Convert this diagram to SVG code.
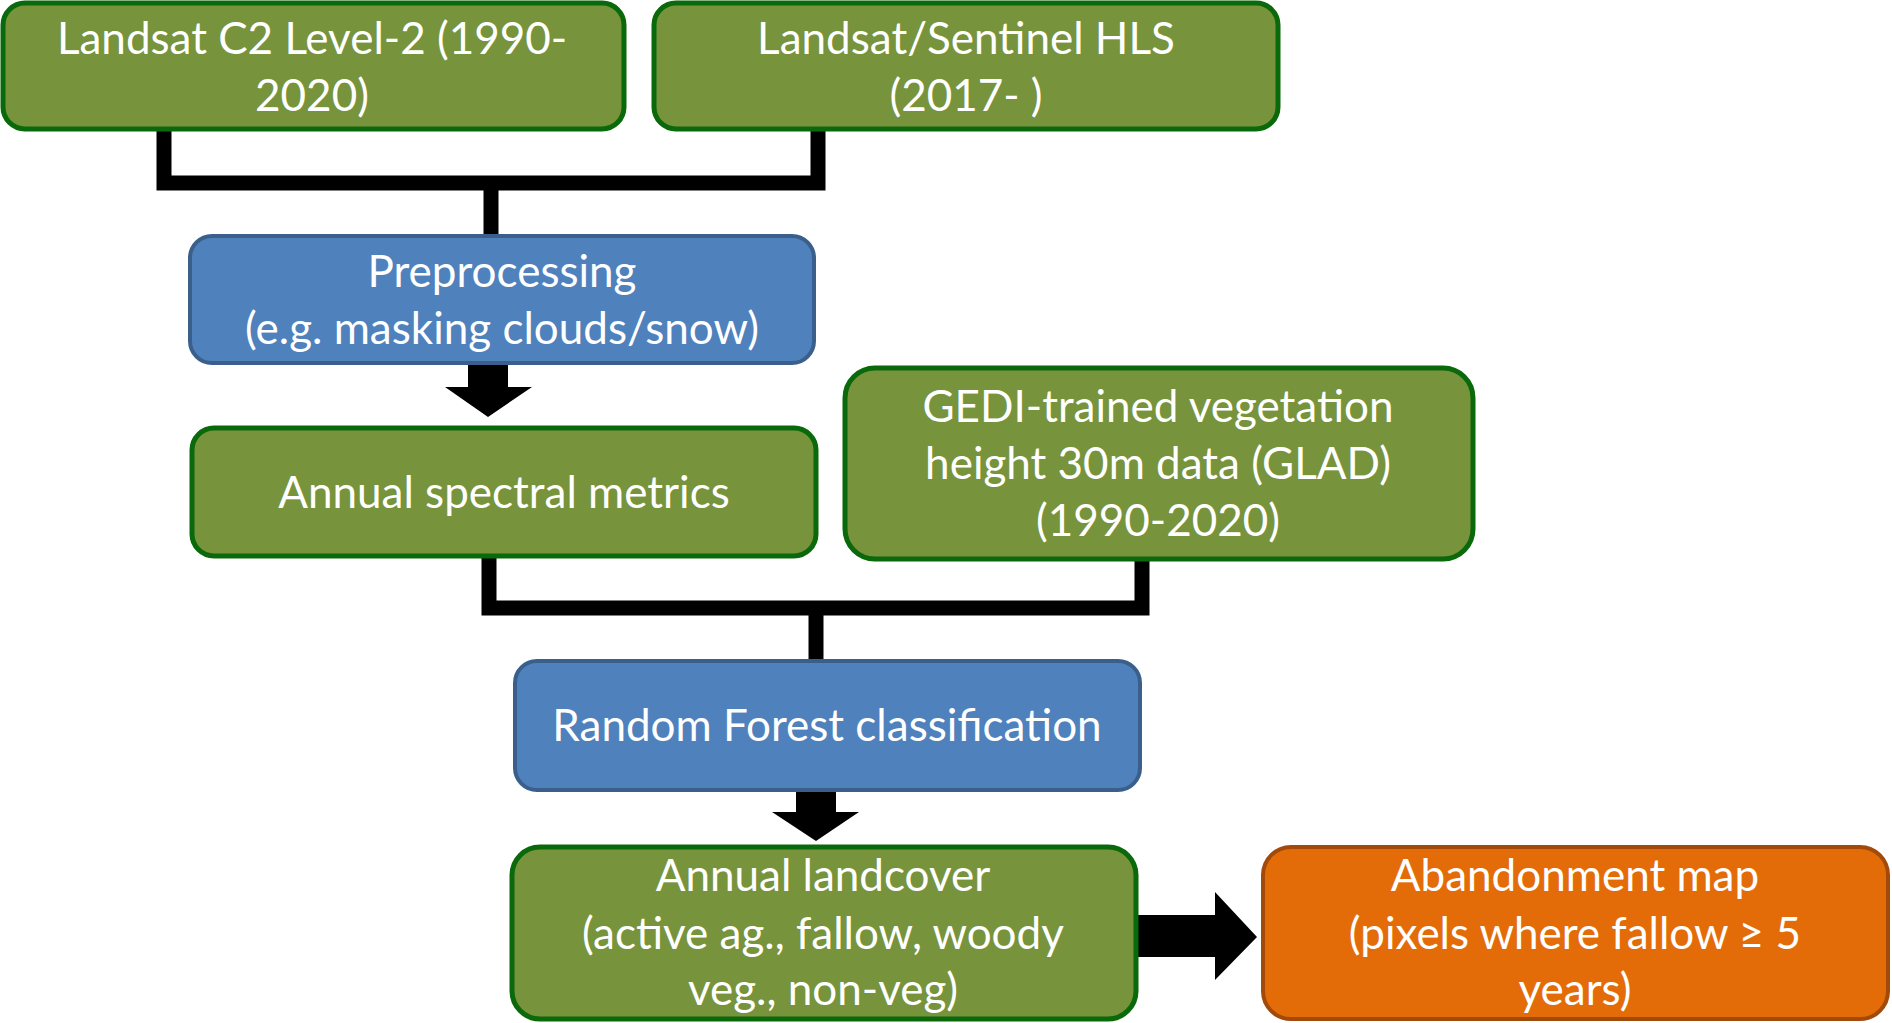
<svg xmlns="http://www.w3.org/2000/svg" width="1892" height="1023" viewBox="0 0 1892 1023">
<style>
.green{fill:#77933C;stroke:#0A690A;stroke-width:5}
.blue{fill:#4F81BD;stroke:#3A5F8B;stroke-width:4}
.orange{fill:#E36C09;stroke:#A14A0A;stroke-width:4}
.t{font-family:Lato,"Open Sans","Liberation Sans",sans-serif;font-size:44px;fill:#FFFFFF;text-anchor:middle}
.conn{fill:none;stroke:#000000;stroke-width:15;stroke-linejoin:miter}
.block{fill:#000000}
</style>
<rect width="1892" height="1023" fill="#FFFFFF"/>
<g id="connectors">
<path class="conn" d="M164,129 V183 H818 V129"/>
<path class="conn" d="M491,183 V235"/>
<path class="conn" d="M489,557 V608 H1142 V559"/>
<path class="conn" d="M816,608 V660"/>
<polygon class="block" points="468,363 508,363 508,387 532,387 488,417 445,387 468,387"/>
<polygon class="block" points="796,791 836,791 836,812 859,812 816,841 772,812 796,812"/>
<polygon class="block" points="1137,915 1215,915 1215,892 1257,937 1215,980 1215,957 1137,957"/>
</g>
<g id="landsat-c2">
<rect class="green" x="3" y="3" width="621" height="126" rx="22"/>
<text class="t" x="312" y="54">Landsat C2 Level-2 (1990-</text>
<text class="t" x="312" y="111">2020)</text>
</g>
<g id="hls">
<rect class="green" x="654" y="3" width="624" height="126" rx="22"/>
<text class="t" x="966" y="54">Landsat/Sentinel HLS</text>
<text class="t" x="966" y="111">(2017- )</text>
</g>
<g id="preprocessing">
<rect class="blue" x="190" y="236" width="624" height="127" rx="22"/>
<text class="t" x="502" y="287">Preprocessing</text>
<text class="t" x="502" y="344">(e.g. masking clouds/snow)</text>
</g>
<g id="spectral-metrics">
<rect class="green" x="192" y="428" width="624" height="128" rx="22"/>
<text class="t" x="504" y="508">Annual spectral metrics</text>
</g>
<g id="gedi">
<rect class="green" x="845" y="368" width="628" height="191" rx="30"/>
<text class="t" x="1158" y="422">GEDI-trained vegetation</text>
<text class="t" x="1158" y="479">height 30m data (GLAD)</text>
<text class="t" x="1158" y="536">(1990-2020)</text>
</g>
<g id="random-forest">
<rect class="blue" x="515" y="661" width="625" height="129" rx="22"/>
<text class="t" x="827" y="741">Random Forest classification</text>
</g>
<g id="annual-landcover">
<rect class="green" x="512" y="847" width="624" height="172" rx="28"/>
<text class="t" x="823" y="891">Annual landcover</text>
<text class="t" x="823" y="949">(active ag., fallow, woody</text>
<text class="t" x="823" y="1005">veg., non-veg)</text>
</g>
<g id="abandonment">
<rect class="orange" x="1263" y="847" width="625" height="172" rx="28"/>
<text class="t" x="1575" y="891">Abandonment map</text>
<text class="t" x="1575" y="949">(pixels where fallow ≥ 5</text>
<text class="t" x="1575" y="1005">years)</text>
</g>
</svg>
